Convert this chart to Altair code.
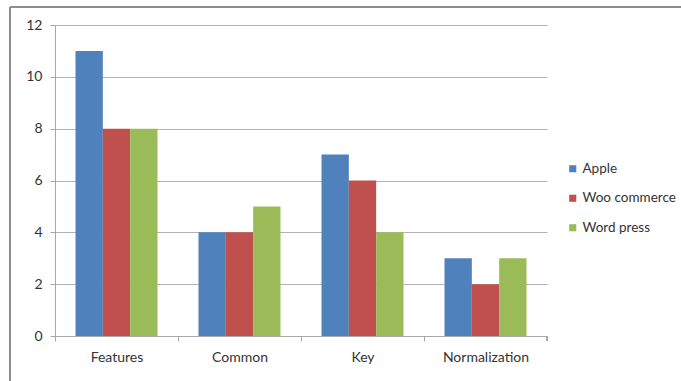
import altair as alt
import pandas as pd

categories = ["Features", "Common", "Key", "Normalization"]
series = ["Apple", "Woo commerce", "Word press"]
apple = [11, 4, 7, 3]
woo = [8, 4, 6, 2]
word = [8, 5, 4, 3]
colors = ["#4F81BD", "#C0504D", "#9BBB59"]

rows = []
for s, vals in zip(series, [apple, woo, word]):
    for c, v in zip(categories, vals):
        rows.append({"category": c, "series": s, "value": v})
df = pd.DataFrame(rows)

W, H = 492, 311
FONT = "Lato"

bars = alt.Chart(df).mark_bar().encode(
    x=alt.X("category:N", sort=categories, title=None,
            scale=alt.Scale(paddingInner=0, paddingOuter=0),
            axis=alt.Axis(labelAngle=0, tickOffset=-W / 8, labelOffset=W / 8,
                          labelPadding=9, tickSize=5, domainColor="#a6a6a6",
                          tickColor="#a6a6a6", labelFont=FONT, labelFontSize=14,
                          labelColor="#333333", grid=False)),
    xOffset=alt.XOffset("series:N", sort=series,
                        scale=alt.Scale(paddingInner=0, paddingOuter=0.75)),
    y=alt.Y("value:Q", title=None,
            scale=alt.Scale(domain=[0, 12]),
            axis=alt.Axis(values=[0, 2, 4, 6, 8, 10, 12], tickSize=5,
                          domainColor="#a6a6a6", tickColor="#a6a6a6",
                          gridColor="#b3b3b3", labelFont=FONT, labelFontSize=14,
                          labelColor="#333333", labelPadding=8)),
    color=alt.Color("series:N", sort=series, title=None,
                    scale=alt.Scale(domain=series, range=colors),
                    legend=alt.Legend(orient="none", legendX=511, legendY=137,
                                      symbolType="square", symbolSize=50,
                                      symbolStrokeWidth=0, labelFont=FONT,
                                      labelFontSize=13.5, labelColor="#333333",
                                      rowPadding=14.5, labelOffset=3)),
)

end_tick = alt.Chart(df).mark_rule(color="#a6a6a6").encode(
    x=alt.value(W), y=alt.value(H), y2=alt.value(H + 5))

frame_top = alt.Chart(df).mark_rule(color="#8c8c8c", strokeWidth=1.5).encode(
    x=alt.value(-45), x2=alt.value(W + 140), y=alt.value(-18))
frame_left = alt.Chart(df).mark_rule(color="#8c8c8c", strokeWidth=1.5).encode(
    x=alt.value(-45), y=alt.value(-18), y2=alt.value(H + 50))

chart = alt.layer(bars, end_tick, frame_top, frame_left).properties(
    width=W, height=H,
    autosize=alt.AutoSizeParams(type="none"),
    padding={"left": 55, "top": 25, "right": 134, "bottom": 45},
    background="white",
).configure_view(stroke=None)

chart.save("out.html", embed_options={"renderer": "svg", "actions": False})
